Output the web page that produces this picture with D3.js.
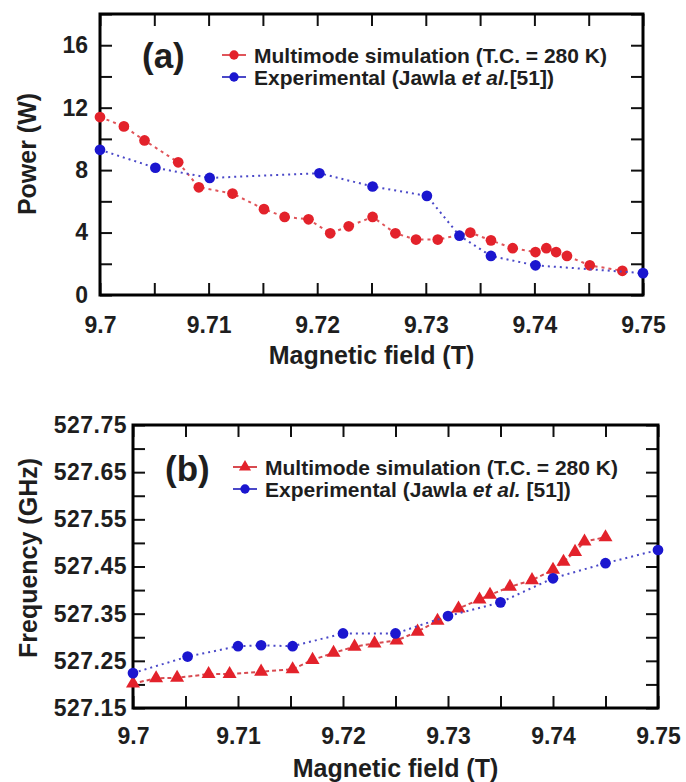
<!DOCTYPE html>
<html>
<head>
<meta charset="utf-8">
<script src="https://cdn.jsdelivr.net/npm/d3@7"></script>
<style>
    body { margin: 0; background: #fff; }
    text { font-family: "Liberation Sans", Arial, sans-serif; font-weight: bold; fill: #1e1e1e; }
</style>
</head>
<body>
<svg id="chart" width="686" height="782"></svg>
<script>
// panel (a): output power
var fieldSimA = [9.7, 9.7022, 9.7041, 9.7072, 9.7091, 9.7122, 9.7151, 9.717, 9.7192, 9.7212, 9.7229, 9.7251,
    9.7272, 9.7291, 9.7311, 9.7341, 9.736, 9.738, 9.7401, 9.7411, 9.742, 9.743, 9.7451, 9.7481];
var powerSimA = [11.4, 10.8, 9.9, 8.5, 6.9, 6.5, 5.5, 5.0, 4.85, 3.95, 4.4, 5.0,
    3.95, 3.55, 3.55, 4.0, 3.5, 3.0, 2.75, 3.0, 2.75, 2.5, 1.9, 1.55];
var fieldExpA = [9.7, 9.7051, 9.7101, 9.7202, 9.7251, 9.7301, 9.7331, 9.736, 9.7401, 9.75];
var powerExpA = [9.3, 8.15, 7.5, 7.8, 6.95, 6.35, 3.8, 2.5, 1.9, 1.4];

// panel (b): frequency
var fieldSimB = [9.7, 9.7022, 9.7042, 9.7072, 9.7092, 9.7122, 9.7152, 9.7171, 9.7191, 9.7211, 9.723, 9.7251,
    9.7271, 9.729, 9.731, 9.733, 9.734, 9.7359, 9.738, 9.74, 9.741, 9.7421, 9.743, 9.745];
var freqSimB = [527.202, 527.213, 527.214, 527.222, 527.222, 527.227, 527.232, 527.252, 527.267, 527.28, 527.287, 527.293,
    527.312, 527.335, 527.361, 527.38, 527.39, 527.407, 527.421, 527.443, 527.46, 527.481, 527.503, 527.512];
var fieldExpB = [9.7, 9.7052, 9.71, 9.7122, 9.7152, 9.72, 9.725, 9.73, 9.735, 9.74, 9.745, 9.75];
var freqExpB = [527.224, 527.259, 527.281, 527.283, 527.281, 527.308, 527.308, 527.345, 527.374, 527.425, 527.457, 527.485];

var fieldTicks = [9.7, 9.705, 9.71, 9.715, 9.72, 9.725, 9.73, 9.735, 9.74, 9.745, 9.75];
var fieldLabels = ["9.7", "9.71", "9.72", "9.73", "9.74", "9.75"];
var powerTicks = [0, 2, 4, 6, 8, 10, 12, 14, 16, 18];
var powerLabels = ["0", "4", "8", "12", "16"];
var freqTicks = [527.15, 527.2, 527.25, 527.3, 527.35, 527.4, 527.45, 527.5, 527.55, 527.6, 527.65, 527.7, 527.75];
var freqLabels = ["527.15", "527.25", "527.35", "527.45", "527.55", "527.65", "527.75"];

var RED = "#e3222b", BLUE = "#1b16cf";

var svg = d3.select("#chart");

function drawPanel(config) {
    var w = config.right - config.left, h = config.bottom - config.top;
    var g = svg.append("g").attr("transform", "translate(" + config.left + "," + config.top + ")");

    var x = d3.scaleLinear().domain([9.7, 9.75]).range([0, w]);
    var y = d3.scaleLinear().domain(config.yDomain).range([h, 0]);

    // label only the ticks that appear in the label list
    function fmt(labels, digits) {
        return function (d) {
            var s = (+d.toFixed(digits)).toString();
            return labels.indexOf(s) >= 0 ? s : "";
        };
    }

    var xb = g.append("g").attr("transform", "translate(0," + h + ")")
        .call(d3.axisBottom(x).tickValues(fieldTicks).tickSize(-12).tickPadding(config.xPad).tickFormat(fmt(fieldLabels, 3)));
    var yl = g.append("g")
        .call(d3.axisLeft(y).tickValues(config.yTicks).tickSize(-12).tickPadding(config.yPad).tickFormat(fmt(config.yLabels, 2)));
    g.append("g").call(d3.axisTop(x).tickValues(fieldTicks).tickSize(-12).tickFormat(""));
    g.append("g").attr("transform", "translate(" + w + ",0)")
        .call(d3.axisRight(y).tickValues(config.yTicks).tickSize(-12).tickFormat(""));

    g.selectAll(".domain").remove();
    g.selectAll(".tick line").attr("stroke", "#111").attr("stroke-width", 2);
    xb.selectAll("text").style("font-size", "23px");
    yl.selectAll("text").style("font-size", "23px").style("letter-spacing", config.ySpacing);

    g.append("rect").attr("width", w).attr("height", h)
        .attr("fill", "none").attr("stroke", "#000").attr("stroke-width", 3);

    var line = d3.line().x(function (d) { return x(d[0]); }).y(function (d) { return y(d[1]); });

    config.series.forEach(function (s) {
        var pts = d3.zip(s.xs, s.ys);
        g.append("path").datum(pts).attr("d", line)
            .attr("fill", "none").attr("stroke", s.lineColor).attr("stroke-width", 2)
            .attr("stroke-dasharray", s.dash);
        g.selectAll(null).data(pts).enter().append("path")
            .attr("transform", function (d) { return "translate(" + x(d[0]) + "," + y(d[1]) + ")"; })
            .attr("d", d3.symbol().type(s.symbol).size(s.size))
            .attr("fill", s.color);
    });

    // panel tag and legend
    svg.append("text").attr("x", config.tag.x).attr("y", config.tag.y)
        .style("font-size", "35px").text(config.tag.text);

    config.series.forEach(function (s, i) {
        var ly = config.legend.y + i * 22;
        var lx = config.legend.x;
        svg.append("line").attr("x1", lx - 12).attr("x2", lx + 12).attr("y1", ly).attr("y2", ly)
            .attr("stroke", s.lineColor).attr("stroke-width", 2);
        svg.append("path").attr("transform", "translate(" + lx + "," + ly + ")")
            .attr("d", d3.symbol().type(s.symbol).size(s.size * 0.75)).attr("fill", s.color);
        var t = svg.append("text").attr("x", lx + 20).attr("y", ly).attr("dy", "0.36em")
            .style("font-size", "21px");
        s.legend.forEach(function (part) {
            t.append("tspan").style("font-style", part.italic ? "italic" : "normal").text(part.text);
        });
    });

    svg.append("text").attr("x", config.left + w / 2).attr("y", config.xTitleY)
        .attr("text-anchor", "middle").style("font-size", "25px").text("Magnetic field (T)");
    svg.append("text").attr("transform", "translate(" + config.yTitleX + "," + config.yTitleMid + ") rotate(-90)")
        .attr("text-anchor", "middle").attr("dy", "0.36em").style("font-size", "25px").text(config.yTitle);
}

drawPanel({
    left: 100, right: 643, top: 14, bottom: 295,
    yDomain: [0, 18], yTicks: powerTicks, yLabels: powerLabels,
    xPad: 22, yPad: 12, ySpacing: "0px",
    xTitleY: 364, yTitleX: 27, yTitleMid: 154, yTitle: "Power (W)",
    tag: { x: 142, y: 68, text: "(a)" },
    legend: { x: 234, y: 55 },
    series: [
        { xs: fieldSimA, ys: powerSimA, color: RED, lineColor: "#e0555a", dash: "3,4",
          symbol: d3.symbolCircle, size: 90,
          legend: [{ text: "Multimode simulation (T.C. = 280 K)" }] },
        { xs: fieldExpA, ys: powerExpA, color: BLUE, lineColor: "#4a48c8", dash: "2,4",
          symbol: d3.symbolCircle, size: 90,
          legend: [{ text: "Experimental (Jawla " }, { text: "et al.", italic: true }, { text: "[51])" }] }
    ]
});

drawPanel({
    left: 133, right: 658, top: 425, bottom: 708,
    yDomain: [527.15, 527.75], yTicks: freqTicks, yLabels: freqLabels,
    xPad: 20, yPad: 6, ySpacing: "0.5px",
    xTitleY: 777, yTitleX: 28, yTitleMid: 558, yTitle: "Frequency (GHz)",
    tag: { x: 165, y: 481, text: "(b)" },
    legend: { x: 245, y: 467 },
    series: [
        { xs: fieldSimB, ys: freqSimB, color: RED, lineColor: "#d84a50", dash: "4,3",
          symbol: d3.symbolTriangle, size: 85,
          legend: [{ text: "Multimode simulation (T.C. = 280 K)" }] },
        { xs: fieldExpB, ys: freqExpB, color: BLUE, lineColor: "#4a48c8", dash: "2,4",
          symbol: d3.symbolCircle, size: 90,
          legend: [{ text: "Experimental (Jawla " }, { text: "et al.", italic: true }, { text: " [51])" }] }
    ]
});
</script>
</body>
</html>
